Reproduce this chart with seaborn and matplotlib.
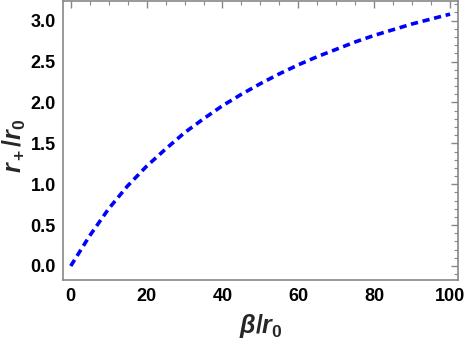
import numpy as np
import pandas as pd
import seaborn as sns
import matplotlib
matplotlib.use("Agg")
import matplotlib.pyplot as plt
from matplotlib.ticker import MultipleLocator, FormatStrFormatter

beta = [0, 5, 10, 15, 20, 25, 30, 35, 40, 45, 50, 55, 60, 65, 70, 75, 80, 85, 90, 95, 100]
r_plus = [0, 0.37, 0.70, 0.98, 1.22, 1.43, 1.63, 1.80, 1.96, 2.10, 2.23, 2.35, 2.46, 2.56,
          2.65, 2.74, 2.82, 2.89, 2.96, 3.02, 3.08]
df = pd.DataFrame({"beta": beta, "r": r_plus})

sns.set_theme(style="white")
plt.rcParams['font.family'] = ['Liberation Sans', 'DejaVu Sans']
plt.rcParams['mathtext.fontset'] = 'custom'
plt.rcParams['mathtext.it'] = 'Liberation Sans:bold:italic'
plt.rcParams['mathtext.rm'] = 'Liberation Sans:bold'
plt.rcParams['mathtext.bf'] = 'Liberation Sans:bold'

fig = plt.figure(figsize=(4.65, 3.49), dpi=100)
ax = fig.add_axes([0.135, 0.198, 0.85, 0.799])
sns.lineplot(data=df, x="beta", y="r", ax=ax, color="#0000ff", linewidth=2.6)
ax.lines[0].set_dashes([2.0, 1.3])

ax.set_xlim(-2.1, 102.1)
ax.set_ylim(-0.17, 3.24)
ax.xaxis.set_major_locator(MultipleLocator(20))
ax.xaxis.set_minor_locator(MultipleLocator(5))
ax.yaxis.set_major_locator(MultipleLocator(0.5))
ax.yaxis.set_minor_locator(MultipleLocator(0.1))
ax.yaxis.set_major_formatter(FormatStrFormatter('%.1f'))
ax.tick_params(which='both', direction='in', top=True, right=True, color='#888888',
               labelcolor='black', labelsize=13)
ax.tick_params(axis='x', which='major', pad=6)
ax.tick_params(axis='y', which='major', pad=5)
ax.tick_params(which='major', length=5, width=1)
ax.tick_params(which='minor', length=3, width=0.8)
for lab in ax.get_xticklabels() + ax.get_yticklabels():
    lab.set_fontweight('bold')
for s in ax.spines.values():
    s.set_color('#888888')
    s.set_linewidth(1.2)
ax.set_xlabel(r'$\beta/r_0$', fontsize=18)
ax.set_ylabel(r'$r_+/r_0$', fontsize=18)
ax.xaxis.set_label_coords(0.5, -0.115)
ax.yaxis.set_label_coords(-0.087, 0.48)
fig.savefig("out.png", dpi=100)
